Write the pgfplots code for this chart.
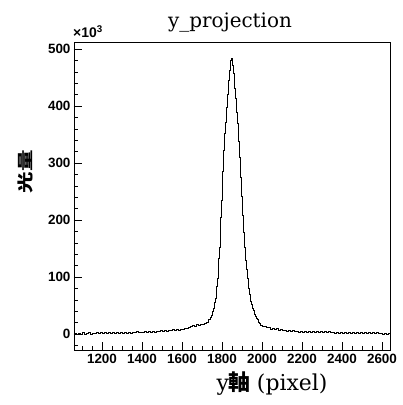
\documentclass[border=0pt]{standalone}
\usepackage{graphicx}
\usepackage{fontspec}
\setmainfont{Liberation Sans}
\newfontfamily\serif{DejaVu Serif}
\newfontfamily\cjk{Noto Sans CJK JP}
\usepackage{pgfplots}
\pgfplotsset{compat=1.18}
\pgfplotstableread{
x y
1060 1.0
1070 -0.9
1080 1.9
1090 0.0
1100 2.1
1110 0.2
1120 1.5
1130 2.4
1140 0.1
1150 1.9
1160 0.5
1170 2.5
1180 0.7
1190 2.3
1200 0.6
1210 2.7
1220 1.1
1230 2.4
1240 0.8
1250 3.0
1260 1.4
1270 2.7
1280 1.2
1290 3.2
1300 1.7
1310 3.4
1320 1.6
1330 3.1
1340 1.9
1350 3.7
1360 2.1
1370 3.9
1380 2.3
1390 3.8
1400 2.6
1410 4.4
1420 2.8
1430 4.6
1440 3.2
1450 5.0
1460 3.6
1470 5.4
1480 4.0
1490 5.9
1500 4.5
1510 6.4
1520 5.1
1530 7.0
1540 5.7
1550 7.6
1560 6.3
1570 8.2
1580 7.1
1590 9.0
1600 8.0
1610 9.7
1620 9.3
1630 11.5
1640 13.6
1650 15.4
1660 14.2
1670 16.4
1680 15.0
1690 17.2
1700 17.1
1710 18.9
1720 21.0
1730 25
1735 26.5
1740 29
1745 32
1750 40
1755 44.5
1760 55
1765 63
1770 84
1775 97
1780 133
1785 152
1790 204
1795 235
1800 285
1805 322
1810 352
1815 372
1820 397
1825 420
1830 446
1835 462
1840 481
1845 484
1850 472
1855 458
1860 431
1865 413
1870 389
1875 370
1880 338
1885 310
1890 275
1895 242
1900 208
1905 178
1910 152
1915 130
1920 114
1925 97
1930 80
1935 70
1940 58
1945 52
1950 45
1955 41
1960 35
1965 31
1970 27
1975 25
1980 20
1985 18.5
1990 16
1995 15
2000 13.5
2010 12.8
2020 11.0
2030 10.9
2040 8.9
2050 9.9
2060 8.0
2070 9.1
2080 6.9
2090 8.1
2100 6.1
2110 7.3
2120 5.3
2130 6.6
2140 4.7
2150 6.1
2160 4.2
2170 5.5
2180 3.5
2190 5.2
2200 3.3
2210 4.9
2220 2.9
2230 4.6
2240 2.7
2250 4.7
2260 2.5
2270 4.2
2280 2.3
2290 4.3
2300 2.6
2310 4.1
2320 2.2
2330 3.9
2340 2.1
2350 3.8
2360 1.9
2370 3.7
2380 1.7
2390 3.4
2400 2.0
2410 3.5
2420 1.6
2430 3.3
2440 1.3
2450 3.1
2460 1.2
2470 3.2
2480 1.0
2490 2.8
2500 1.3
2510 2.9
2520 0.9
2530 2.5
2540 0.7
2550 2.6
2560 0.6
2570 2.1
2580 0.3
2590 1.9
2600 0.0
2610 1.5
2620 -0.2
2630 1.1
2640 1.1
}\histdata
\begin{document}
\begin{tikzpicture}
\useasboundingbox (-74bp,-55bp) rectangle (329bp,350bp);
\begin{axis}[
  at={(0,0)}, anchor=south west,
  scale only axis, width=316bp, height=308bp,
  xmin=1060, xmax=2640, ymin=-28, ymax=512.5,
  xtick={1200,1400,...,2600},
  ytick={0,100,...,500},
  minor xtick={1100,1150,...,2650},
  minor ytick={-20,0,...,500},
  tick pos=left, tick align=inside,
  major tick length=8bp, minor tick length=4bp,
  scaled ticks=false,
  /pgf/number format/assume math mode=true,
  /pgf/number format/1000 sep={},
  ticklabel style={font=\bfseries\fontsize{13.5}{14}\selectfont},
  xticklabel style={yshift=-1bp},
  axis line style={line width=0.8pt},
  every tick/.style={black, line width=0.6pt},
  clip=true,
]
\addplot[const plot, black, line width=0.75pt] table[x=x, y=y] {\histdata};
\end{axis}
\node[anchor=south west, inner sep=0pt] at (-1bp,312bp) {\fontsize{14}{14}\selectfont\bfseries ×10\textsuperscript{3}};
\node[anchor=base, inner sep=0pt] at (156bp,322bp) {\serif\fontsize{20}{20}\selectfont y\_projection};
\node[anchor=base, inner sep=0pt] at (198bp,-40bp) {\fontsize{22}{22}\selectfont{\serif y}{\cjk\bfseries 軸} {\serif (pixel)}};
\node[rotate=90, inner sep=0pt] at (-49bp,178bp) {\scalebox{1.35}[1]{\cjk\bfseries\fontsize{16}{16}\selectfont 光量}};
\end{tikzpicture}
\end{document}
